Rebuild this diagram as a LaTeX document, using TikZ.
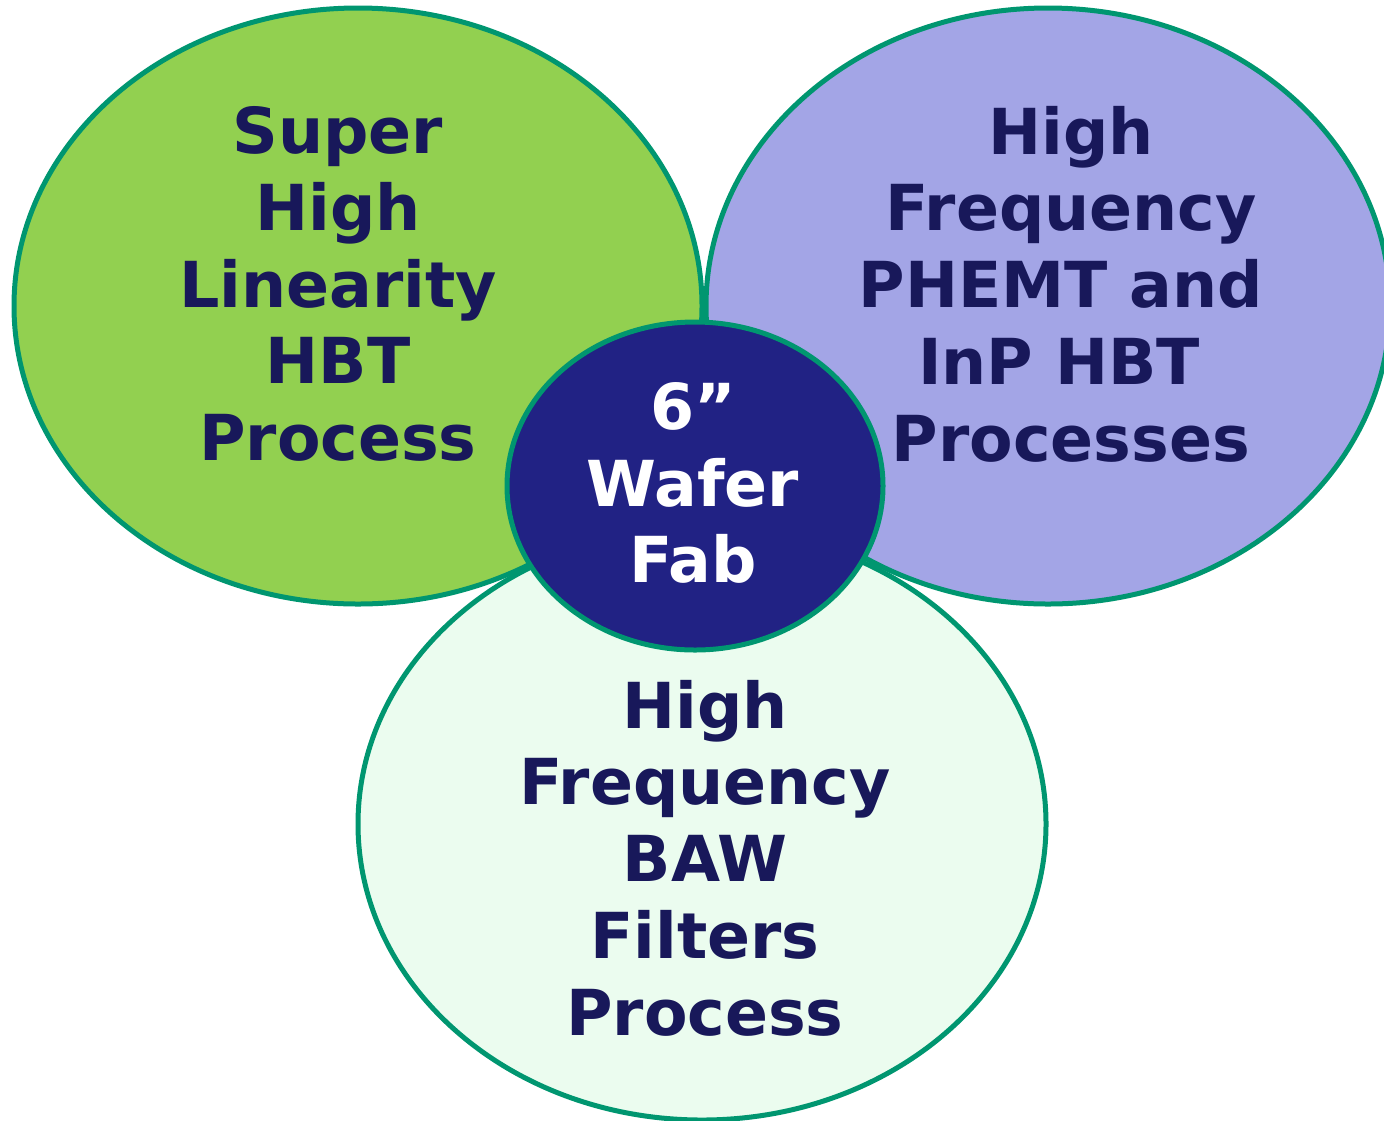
\documentclass[tikz,border=0pt]{standalone}
\usepackage{fontspec}
\setmainfont{DejaVu Sans}
\usetikzlibrary{shapes.geometric}
\definecolor{cgreen}{HTML}{92D050}
\definecolor{cpurple}{HTML}{A3A5E6}
\definecolor{cmint}{HTML}{EBFCEF}
\definecolor{cnavy}{HTML}{212284}
\definecolor{cedge}{HTML}{009670}
\definecolor{ctext}{HTML}{18185A}
\begin{document}
\begin{tikzpicture}[x=0.5pt,y=-0.5pt,
  blob/.style={ellipse,draw=cedge,line width=2.5pt,inner sep=0pt,outer sep=0pt},
  lbl/.style={align=center,font=\fontsize{31.7}{38.4}\selectfont\bfseries,text=ctext,inner sep=0pt}]
\useasboundingbox (0,0) rectangle (1384,1120);
\clip (0,0) rectangle (1384,1120);
\node[blob,fill=cgreen,minimum width=344pt,minimum height=298pt] (g) at (358,306) {};
\node[blob,fill=cpurple,minimum width=342pt,minimum height=298pt] (p) at (1048,306) {};
\node[blob,fill=cmint,minimum width=344pt,minimum height=296pt] (b) at (702,824) {};
\node[blob,fill=cnavy,minimum width=188pt,minimum height=164pt] (c) at (695,486) {};
\node[lbl] (tg) at (338,284) {Super\\High\\Linearity\\HBT\\Process};
\node[lbl] (tp) at (1071,284) {High\\Frequency\\PHEMT and\rule{10pt}{0pt}\\InP HBT\rule{12pt}{0pt}\\Processes};
\node[lbl] (tb) at (705,858) {High\\Frequency\\BAW\\Filters\\Process};
\node[lbl,text=white] (tc) at (693,483) {6”\\Wafer\\Fab};
\end{tikzpicture}
\end{document}
